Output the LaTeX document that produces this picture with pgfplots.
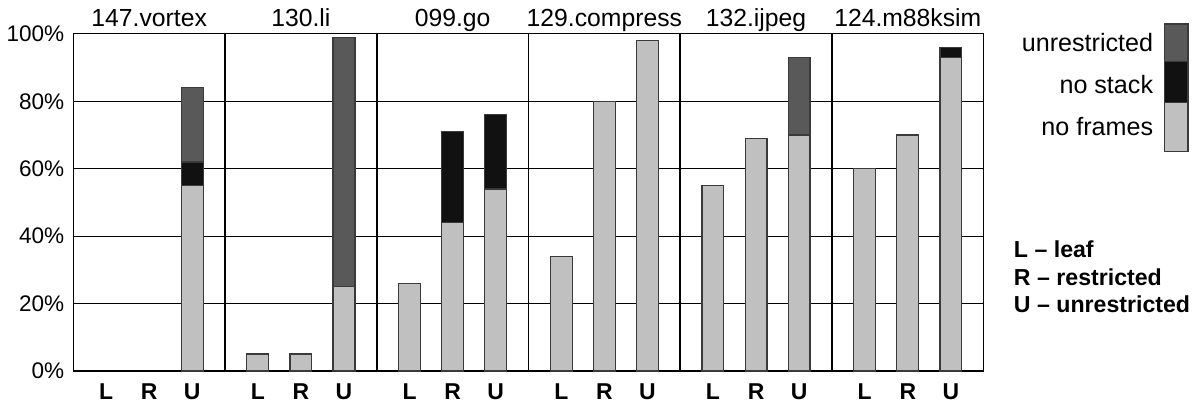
\documentclass[border=0pt]{standalone}
\usepackage{pgfplots}
\pgfplotsset{compat=1.18}
\usepackage{fontspec}
\setmainfont{Liberation Sans}
\definecolor{nfc}{HTML}{C0C0C0}
\definecolor{nsc}{HTML}{111111}
\definecolor{urc}{HTML}{595959}
\definecolor{edgec}{HTML}{3A3A3A}
\begin{document}
\begin{tikzpicture}
\begin{axis}[
  scale only axis,
  width=456.5pt, height=169pt,
  xmin=0, xmax=6, ymin=0, ymax=100,
  clip=false,
  axis line style={black, line width=0.6pt},
  /pgf/number format/assume math mode=true,
  ytick={0,20,40,60,80,100},
  yticklabel={\pgfmathprintnumber{\tick}\%},
  yticklabel style={font=\fontsize{11.3}{13}\selectfont, xshift=-1pt},
  ymajorgrids, major grid style={black, line width=0.5pt},
  major tick length=0pt,
  xtick={0.216,0.5,0.784,1.216,1.5,1.784,2.216,2.5,2.784,3.216,3.5,3.784,4.216,4.5,4.784,5.216,5.5,5.784},
  xticklabels={L,R,U,L,R,U,L,R,U,L,R,U,L,R,U,L,R,U},
  xticklabel style={font=\fontsize{11.5}{13}\selectfont\bfseries, yshift=-3pt},
  extra x ticks={1,2,3,4,5},
  extra x tick labels={},
  extra x tick style={xmajorgrids, major grid style={black, line width=0.8pt}},
  every axis plot/.append style={ybar, bar width=0.144, bar shift=0pt, draw=edgec, line width=0.6pt},
]
% cumulative top of "unrestricted"
\addplot[fill=urc] coordinates {(0.784,84) (1.784,99) (4.784,93)};
% cumulative top of "no stack"
\addplot[fill=nsc] coordinates {(0.784,62) (2.5,71) (2.784,76) (5.784,96)};
% "no frames"
\addplot[fill=nfc] coordinates {
 (0.784,55)
 (1.216,5) (1.5,5) (1.784,25)
 (2.216,26) (2.5,44) (2.784,54)
 (3.216,34) (3.5,80) (3.784,98)
 (4.216,55) (4.5,69) (4.784,70)
 (5.216,60) (5.5,70) (5.784,93)};
% group titles
\foreach \g/\t in {0/147.vortex,1/130.li,2/099.go,3/129.compress,4/132.ijpeg,5/124.m88ksim}{
  \edef\temp{\noexpand\node[anchor=base, inner sep=0pt, font=\noexpand\fontsize{12.4}{14}\noexpand\selectfont] at (axis cs:\g+0.5,102.2) {\t};}
  \temp
}
% legend swatches
\filldraw[fill=urc, draw=edgec, line width=0.6pt] (rel axis cs:1.199,1.0296) rectangle (rel axis cs:1.2245,0.917);
\filldraw[fill=nsc, draw=edgec, line width=0.6pt] (rel axis cs:1.199,0.917) rectangle (rel axis cs:1.2245,0.796);
\filldraw[fill=nfc, draw=edgec, line width=0.6pt] (rel axis cs:1.199,0.796) rectangle (rel axis cs:1.2245,0.651);
\node[anchor=east, font=\fontsize{12.6}{14}\selectfont] at (rel axis cs:1.1939,0.973) {unrestricted};
\node[anchor=east, font=\fontsize{12.6}{14}\selectfont] at (rel axis cs:1.1939,0.849) {no stack};
\node[anchor=east, font=\fontsize{12.6}{14}\selectfont] at (rel axis cs:1.1939,0.725) {no frames};
\node[anchor=west, inner sep=0pt, font=\fontsize{11.6}{13}\selectfont\bfseries] at (rel axis cs:1.0329,0.361) {L -- leaf};
\node[anchor=west, inner sep=0pt, font=\fontsize{11.6}{13}\selectfont\bfseries] at (rel axis cs:1.0329,0.278) {R -- restricted};
\node[anchor=west, inner sep=0pt, font=\fontsize{11.6}{13}\selectfont\bfseries] at (rel axis cs:1.0329,0.198) {U -- unrestricted};
\path (rel axis cs:-0.0767,-0.1036) rectangle (rel axis cs:1.2311,1.1006);
\end{axis}
\end{tikzpicture}
\end{document}
